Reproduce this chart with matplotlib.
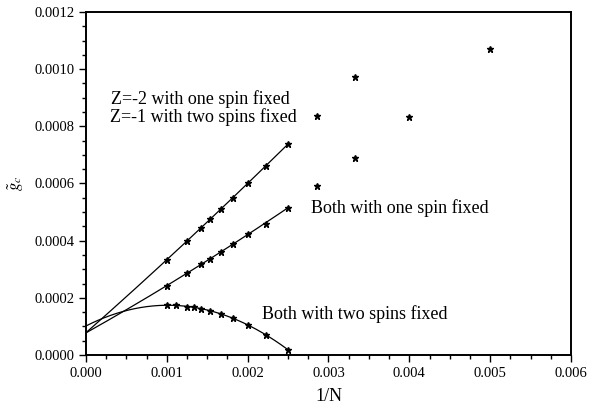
import numpy as np
import matplotlib
matplotlib.use("Agg")
import matplotlib.pyplot as plt
from matplotlib.ticker import MultipleLocator, FormatStrFormatter

plt.rcParams['font.family'] = ['Liberation Serif', 'DejaVu Serif']
plt.rcParams['mathtext.fontset'] = 'stix'

# data (x = 1/N)
x_fit = [1/1000, 1/800, 1/700, 1/650, 1/600, 1/550, 1/500, 1/450, 1/400]
y_z2_one = [0.000334, 0.000398, 0.000446, 0.000476, 0.000510,
            0.000551, 0.000601, 0.000661, 0.000738]
y_both_one = [0.000243, 0.000286, 0.000318, 0.000336, 0.000360,
              0.000389, 0.000423, 0.000460, 0.000516]

x_two = [1/1000, 1/900, 1/800, 1/750, 1/700, 1/650, 1/600, 1/550, 1/500, 1/450, 1/400]
y_both_two = [0.000174, 0.000174, 0.000169, 0.000167, 0.000162, 0.000154,
              0.000144, 0.000130, 0.000105, 0.000070, 0.0000186]

# small-N points, not fitted
x_small = [1/350, 1/300, 1/200, 1/350, 1/300, 1/250]
y_small = [0.000835, 0.000971, 0.001069, 0.000590, 0.000690, 0.000831]

fig = plt.figure(figsize=(5.98, 4.07), dpi=100)
ax = fig.add_axes([0.1438, 0.1278, 0.8110, 0.8427])

xx = np.linspace(0, 0.0025, 200)
for xs, ys in [(x_fit, y_z2_one), (x_fit, y_both_one), (x_two, y_both_two)]:
    coef = np.polyfit(xs, ys, 2)
    ax.plot(xx, np.polyval(coef, xx), color='black', lw=0.9)
    ax.plot(xs, ys, ls='none', marker='*', ms=4.5, color='black')

ax.plot(x_small, y_small, ls='none', marker='*', ms=4.5, color='black')

ax.text(0.000315, 0.000895, 'Z=-2 with one spin fixed', fontsize=13, va='center')
ax.text(0.000295, 0.000832, 'Z=-1 with two spins fixed', fontsize=13, va='center')
ax.text(0.002780, 0.000513, 'Both with one spin fixed', fontsize=13, va='center')
ax.text(0.002175, 0.000142, 'Both with two spins fixed', fontsize=13, va='center')

ax.set_xlim(0, 0.006)
ax.set_ylim(0, 0.0012)
ax.xaxis.set_major_locator(MultipleLocator(0.001))
ax.xaxis.set_minor_locator(MultipleLocator(0.00025))
ax.yaxis.set_major_locator(MultipleLocator(0.0002))
ax.yaxis.set_minor_locator(MultipleLocator(0.00005))
ax.xaxis.set_major_formatter(FormatStrFormatter('%.3f'))
ax.yaxis.set_major_formatter(FormatStrFormatter('%.4f'))
ax.tick_params(which='major', direction='out', length=5, width=1, labelsize=10.5)
ax.tick_params(which='minor', direction='out', length=3, width=1)
for s in ax.spines.values():
    s.set_linewidth(1.4)

ax.set_xlabel('1/N', fontsize=13, labelpad=6)
ax.set_ylabel(r'$\tilde{g}_c$', fontsize=12, labelpad=6)

fig.savefig('out.png', dpi=100)
